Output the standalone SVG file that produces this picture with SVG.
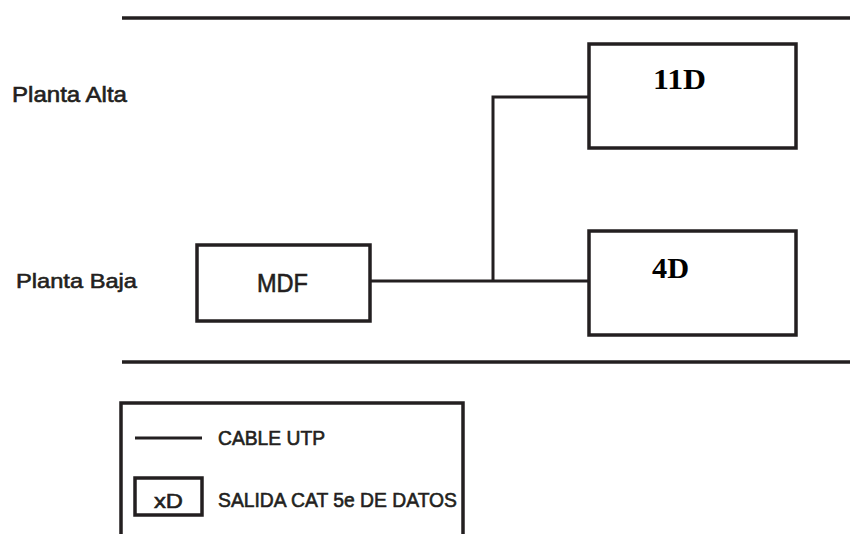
<svg xmlns="http://www.w3.org/2000/svg" width="850" height="534" viewBox="0 0 850 534">
<style>
.box{fill:#fff;stroke:#231f20;stroke-width:3.5}
.rule{stroke:#231f20;stroke-width:3.5;fill:none}
.wire{stroke:#231f20;stroke-width:3;fill:none}
.sans{font-family:"Liberation Sans",Arial,sans-serif;fill:#231f20;stroke:#231f20;stroke-width:0.6}
.serif{font-family:"Liberation Serif","Times New Roman",serif;font-weight:bold;fill:#000}
</style>
<rect width="850" height="534" fill="#fff"/>
<g id="floors">
<line class="rule" x1="122" y1="18" x2="850" y2="18"/>
<line class="rule" x1="122" y1="362" x2="850" y2="362"/>
<text class="sans" x="12" y="101.5" font-size="21.5" textLength="115" lengthAdjust="spacingAndGlyphs">Planta Alta</text>
<text class="sans" x="16" y="288" font-size="21" textLength="121" lengthAdjust="spacingAndGlyphs">Planta Baja</text>
</g>
<g id="connectors">
<polyline class="wire" points="370,281 589,281"/>
<polyline class="wire" points="493,281 493,97 589,97"/>
</g>
<g id="node-mdf">
<rect class="box" x="197" y="245" width="173" height="76"/>
<text class="sans" x="257" y="292" font-size="25" textLength="51" lengthAdjust="spacingAndGlyphs">MDF</text>
</g>
<g id="node-11d">
<rect class="box" x="589" y="44" width="207" height="104"/>
<text class="serif" x="653" y="89" font-size="29" textLength="53" lengthAdjust="spacingAndGlyphs">11D</text>
</g>
<g id="node-4d">
<rect class="box" x="589" y="231" width="207" height="104"/>
<text class="serif" x="652" y="277.5" font-size="29" textLength="37" lengthAdjust="spacingAndGlyphs">4D</text>
</g>
<g id="legend">
<path class="box" d="M121,534 V403 H463 V534"/>
<line class="wire" x1="135" y1="438" x2="202" y2="438"/>
<text class="sans" x="218" y="445" font-size="19.5" textLength="107" lengthAdjust="spacingAndGlyphs">CABLE UTP</text>
<rect class="box" x="135" y="478" width="67" height="37" stroke-width="3"/>
<text class="sans" x="154" y="507.5" font-size="21" textLength="29" lengthAdjust="spacingAndGlyphs">xD</text>
<text class="sans" x="218" y="507" font-size="20" textLength="239" lengthAdjust="spacingAndGlyphs">SALIDA CAT 5e DE DATOS</text>
</g>
</svg>
